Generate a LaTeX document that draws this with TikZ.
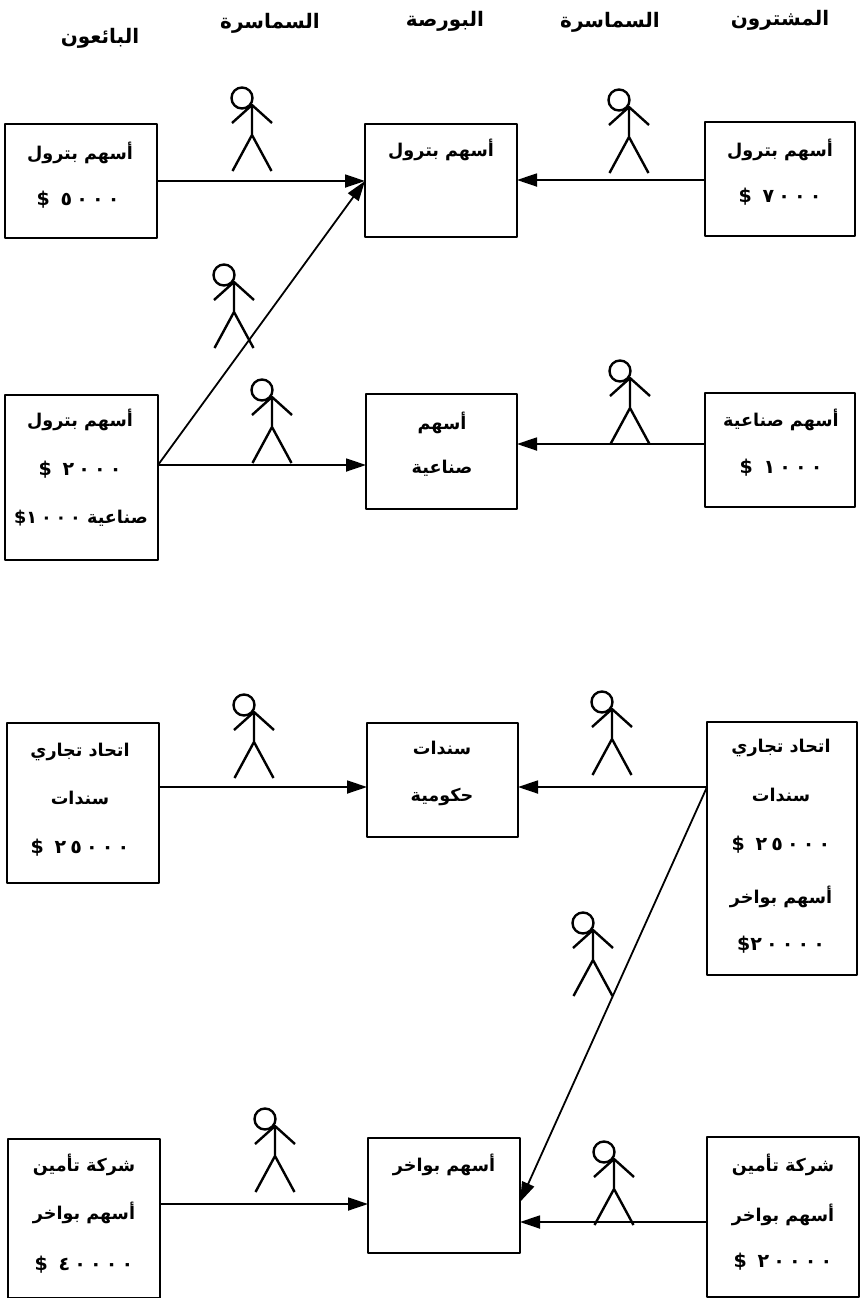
\documentclass[tikz,border=0pt]{standalone}
\usepackage{fontspec}
\usetikzlibrary{arrows.meta}
\TeXXeTstate=1
\newfontfamily\arabicfont[Script=Arabic]{DejaVu Sans}
\newfontfamily\moneyfont[Script=Arabic,LetterSpace=22]{DejaVu Sans}
\tikzset{
  stockbox/.style={draw, line width=1.1pt, inner sep=0pt, outer sep=0pt},
  stocktext/.style={font=\arabicfont\bfseries\fontsize{8.8}{12}\selectfont, inner sep=0pt},
  headtext/.style={font=\arabicfont\bfseries\fontsize{10}{12}\selectfont, inner sep=0pt},
  sumtext/.style={font=\moneyfont\bfseries\fontsize{9.5}{12}\selectfont, inner sep=0pt},
  deal/.style={->, line width=0.9pt},
  broker/.pic={
    \draw[line width=1.2pt] (-10,-7) circle (10.5);
    \draw[line width=1.2pt] (-20,18) -- (0,0) -- (20,18) (0,0) -- (0,30) (-19.5,66) -- (0,30) -- (19.5,66);
  }
}
\begin{document}
\begin{tikzpicture}[line join=round, >={Triangle[length=10pt,width=6.5pt]}, x=0.5pt, y=-0.5pt]
\useasboundingbox (0,0) rectangle (862,1298);
% boxes
\foreach \n/\xa/\ya/\xb/\yb in {sellerA/5/124/157/238, exchA/365/124/517/237, buyerA/705/122/855/236,
  sellerB/5/395/158/560, exchB/366/394/517/509, buyerB/705/393/855/507,
  sellerC/7/723/159/883, exchC/367/723/518/837, buyerC/707/722/857/975,
  sellerD/8/1139/160/1298, exchD/368/1138/520/1253, buyerD/707/1137/859/1297}{
  \node[stockbox, minimum width={(\xb-\xa)*0.5pt}, minimum height={(\yb-\ya)*0.5pt}] (\n) at ({(\xa+\xb)/2},{(\ya+\yb)/2}) {};
}
% texts
\foreach \x/\y/\t [count=\i] in {100/38/البائعون, 270/23/السماسرة, 445/21/البورصة, 610/22/السماسرة, 780/20/المشترون}{
  \node[headtext] (head\i) at (\x,\y) {\beginR\t\endR};
}
\foreach \x/\y/\t [count=\i] in {80/153/أسهم بترول, 441/150/أسهم بترول, 780/150/أسهم بترول,
  80/420/أسهم بترول, 442/423/أسهم, 442/468/صناعية, 781/420/أسهم صناعية,
  80/752/اتحاد تجاري, 80/798/سندات, 442/748/سندات, 442/797/حكومية,
  781/748/اتحاد تجاري, 781/795/سندات, 781/897/أسهم بواخر,
  84/1165/شركة تأمين, 84/1213/أسهم بواخر, 444/1165/أسهم بواخر,
  783/1165/شركة تأمين, 783/1215/أسهم بواخر}{
  \node[stocktext] (word\i) at (\x,\y) {\beginR\t\endR};
}
\foreach \x/\y/\t [count=\i] in {78/200/\$ ٥٠٠٠, 780/197/\$ ٧٠٠٠, 80/470/\$ ٢٠٠٠, 781/468/\$ ١٠٠٠,
  80/848/\$ ٢٥٠٠٠, 781/845/\$ ٢٥٠٠٠, 781/945/\$\kern0pt ٢٠٠٠٠, 84/1265/\$ ٤٠٠٠٠, 783/1262/\$ ٢٠٠٠٠}{
  \node[sumtext] (sum\i) at (\x,\y) {\t};
}
\node[stocktext] (sumB) at (81,518) {\beginR صناعية \beginL{\moneyfont\$\kern0pt ١٠٠٠}\endL\endR};
% deals
\foreach \a/\b/\l in {sellerA/exchA/181, sellerB/exchB/465, sellerC/exchC/787, sellerD/exchD/1204}{
  \draw[deal] (\a.east |- 0,\l) -- (\b.west |- 0,\l);
}
\foreach \a/\b/\l in {buyerA/exchA/180, buyerB/exchB/444, buyerC/exchC/787, buyerD/exchD/1222}{
  \draw[deal] (\a.west |- 0,\l) -- (\b.east |- 0,\l);
}
\draw[deal] (sellerB.east |- 0,465) -- (exchA.west |- 0,181);
\draw[deal] (buyerC.west |- 0,787) -- (exchD.east |- 0,1202);
% brokers
\foreach \x/\y in {252/105, 629/107, 234/282, 272/397, 630/378, 254/712, 612/709, 593/930, 275/1126, 614/1159}{
  \pic at (\x,\y) {broker};
}
\end{tikzpicture}
\end{document}
